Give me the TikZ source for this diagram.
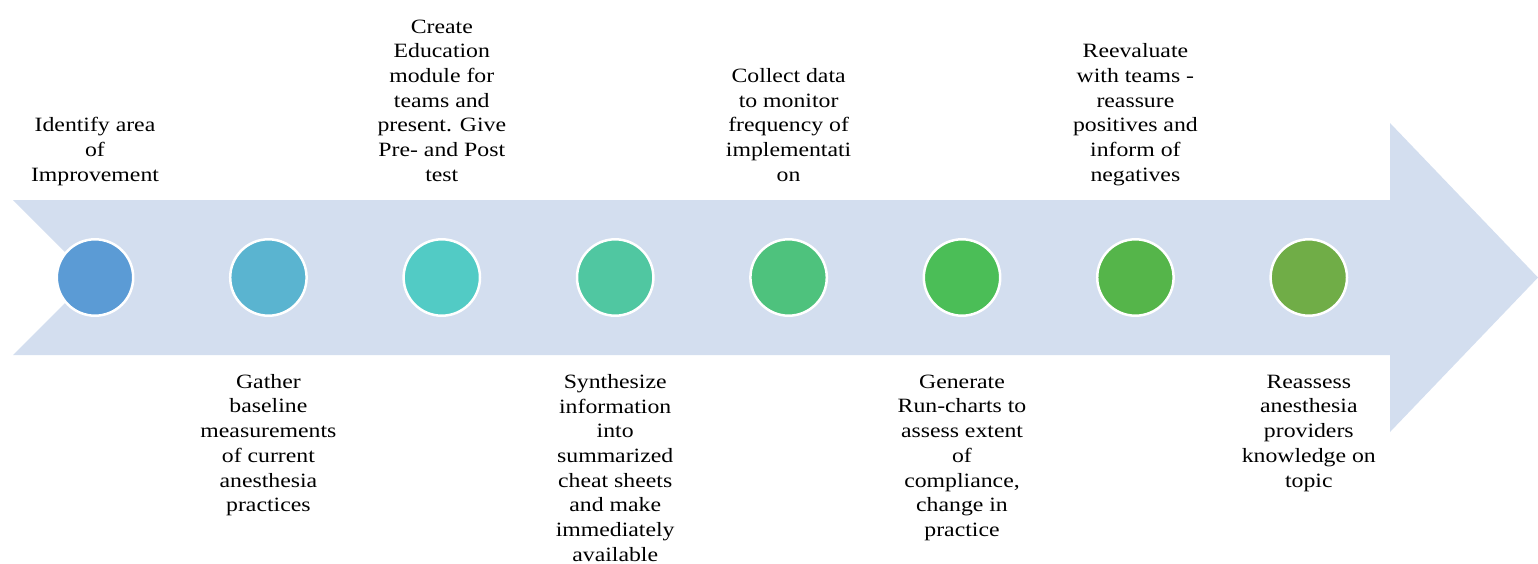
\documentclass[tikz,border=0pt]{standalone}
\usepackage{fontspec}
\setmainfont{Liberation Serif}
\usepackage{graphicx}

\definecolor{arrowfill}{HTML}{D3DEEF}
\definecolor{dotA}{HTML}{5B9BD5}
\definecolor{dotB}{HTML}{5AB4D0}
\definecolor{dotC}{HTML}{52CBC5}
\definecolor{dotD}{HTML}{50C7A1}
\definecolor{dotE}{HTML}{4EC27D}
\definecolor{dotF}{HTML}{4BBE57}
\definecolor{dotG}{HTML}{55B54A}
\definecolor{dotH}{HTML}{70AD47}

% centred, slightly widened multi-line label
\newcommand\steplabel[1]{\scalebox{1.17}[1]{\begin{tabular}{@{}c@{}}#1\end{tabular}}}

\tikzset{
  dot/.style={circle, minimum size=76.4pt, inner sep=0pt, draw=white, line width=2.5pt},
  toplabel/.style={anchor=south, inner sep=0pt, font=\fontsize{20.3}{24.7}\selectfont},
  botlabel/.style={anchor=north, inner sep=0pt, font=\fontsize{20.3}{24.7}\selectfont},
}

\begin{document}
\begin{tikzpicture}[x=1pt, y=-1pt]
\useasboundingbox (0,0) rectangle (1538,563);

% timeline arrow
\fill[arrowfill] (13,200) -- (1390,200) -- (1390,123) -- (1538,277.5)
  -- (1390,432) -- (1390,355) -- (13,355) -- (90.5,277.5) -- cycle;

% milestones
\node[dot, fill=dotA] (c1) at (95,277.5) {};
\node[dot, fill=dotB] (c2) at (268.4,277.5) {};
\node[dot, fill=dotC] (c3) at (441.8,277.5) {};
\node[dot, fill=dotD] (c4) at (615.2,277.5) {};
\node[dot, fill=dotE] (c5) at (788.6,277.5) {};
\node[dot, fill=dotF] (c6) at (962,277.5) {};
\node[dot, fill=dotG] (c7) at (1135.4,277.5) {};
\node[dot, fill=dotH] (c8) at (1308.8,277.5) {};

% labels above the arrow
\node[toplabel] (t1) at (95,189) {\steplabel{Identify area\\of\\Improvement}};
\node[toplabel] (t3) at (441.8,189) {\steplabel{Create\\Education\\module for\\teams and\\present. Give\\Pre- and Post\\test}};
\node[toplabel] (t5) at (788.6,189) {\steplabel{Collect data\\to monitor\\frequency of\\implementati\\on}};
\node[toplabel] (t7) at (1135.4,189) {\steplabel{Reevaluate\\with teams -\\reassure\\positives and\\inform of\\negatives}};

% labels below the arrow
\node[botlabel] (t2) at (268.4,370.8) {\steplabel{Gather\\baseline\\measurements\\of current\\anesthesia\\practices}};
\node[botlabel] (t4) at (615.2,370.8) {\steplabel{Synthesize\\information\\into\\summarized\\cheat sheets\\and make\\immediately\\available}};
\node[botlabel] (t6) at (962,370.8) {\steplabel{Generate\\Run-charts to\\assess extent\\of\\compliance,\\change in\\practice}};
\node[botlabel] (t8) at (1308.8,370.8) {\steplabel{Reassess\\anesthesia\\providers\\knowledge on\\topic}};
\end{tikzpicture}
\end{document}
